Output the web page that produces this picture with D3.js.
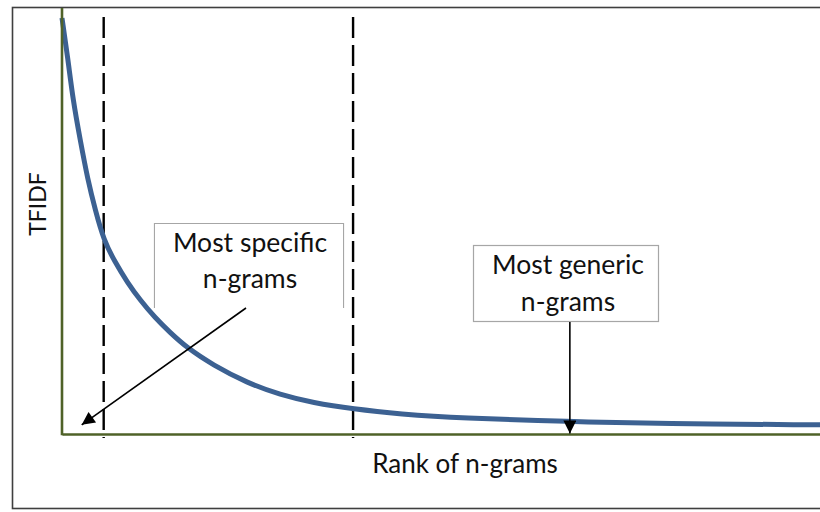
<!DOCTYPE html>
<html>
<head>
<meta charset="utf-8">
<script src="https://cdn.jsdelivr.net/npm/d3@7"></script>
<style>
  html, body { margin: 0; padding: 0; background: #fff; }
  svg { display: block; }
  text { font-family: Lato, "Noto Sans", sans-serif; fill: #111; }
</style>
</head>
<body>
<svg id="chart" width="820" height="512"></svg>
<script>
// ---- data ----
const rank  = [0, 0.8, 1.45, 2.4, 3.4, 4.4, 5.5, 7.0, 8.6, 10.3, 12.3, 14.2, 16.5, 19.9, 24.4, 28.8, 33.1, 38.4, 44.6, 52.5, 67.0, 78.9, 100];
const tfidf = [100, 89.9, 80.3, 70.7, 61.1, 53.8, 46.6, 41.3, 36.5, 32.2, 27.9, 24.5, 20.7, 16.6, 12.3, 9.4, 7.5, 6.0, 4.8, 3.8, 3.0, 2.5, 2.2];
const thresholds = [5.5, 38.4];            // dashed separator ranks
const xLabel = "Rank of n-grams";
const yLabel = "TFIDF";
const specificLines = ["Most specific", "n-grams"];
const genericLines = ["Most generic", "n-grams"];
const specificTarget = [2.6, 2.2];         // arrow tip (rank, tfidf)
const genericTarget = [67, 0.1];

const svg = d3.select("#chart");
const x = d3.scaleLinear().domain([0, 100]).range([62, 820]);
const y = d3.scaleLinear().domain([0, 100]).range([434, 18]);

// outer frame
svg.append("rect").attr("x", 12.5).attr("y", 7.5).attr("width", 830).attr("height", 501)
  .attr("fill", "none").attr("stroke", "#3f3f3f").attr("stroke-width", 1.6);

const defs = svg.append("defs");
defs.append("marker").attr("id", "arrow").attr("viewBox", "0 0 10 10")
  .attr("refX", 10).attr("refY", 5).attr("markerWidth", 16).attr("markerHeight", 13)
  .attr("markerUnits", "userSpaceOnUse").attr("orient", "auto")
  .append("path").attr("d", "M0,0 L10,5 L0,10 Z").attr("fill", "#000");

// dashed separators
svg.selectAll(".sep").data(thresholds).join("line")
  .attr("x1", d => x(d)).attr("x2", d => x(d))
  .attr("y1", 17).attr("y2", 438)
  .attr("stroke", "#000").attr("stroke-width", 2.4)
  .attr("stroke-dasharray", "21,7");

// curve
const line = d3.line().x((d, i) => x(rank[i])).y((d, i) => y(tfidf[i])).curve(d3.curveBasis);
svg.append("path").datum(tfidf).attr("d", line)
  .attr("fill", "none").attr("stroke", "#3c6192").attr("stroke-width", 5)
  .attr("stroke-linecap", "butt");

// axes (no ticks)
const gx = svg.append("g").attr("transform", `translate(0,${y(0)})`)
  .call(d3.axisBottom(x).tickValues([]).tickSizeOuter(0));
const gy = svg.append("g").attr("transform", `translate(${x(0)},0)`)
  .call(d3.axisLeft(y).tickValues([]).tickSizeOuter(0));
[gx, gy].forEach(g => g.select(".domain").attr("stroke", "#4f6228").attr("stroke-width", 2.6));
gy.select(".domain").attr("d", `M0,8V${y(0) + 1.3}`);

// axis labels
svg.append("text").attr("x", 465).attr("y", 473).attr("text-anchor", "middle")
  .attr("font-size", 26).text(xLabel);
svg.append("text").attr("transform", "translate(46,204) rotate(-90)").attr("text-anchor", "middle")
  .attr("font-size", 23).text(yLabel);

// "Most specific" box (open at bottom)
svg.append("path").attr("d", "M154.5,308 V223.5 H343.5 V308")
  .attr("fill", "#fff").attr("stroke", "#a6a6a6").attr("stroke-width", 1.2);
svg.append("rect").attr("x", 155).attr("y", 224).attr("width", 188).attr("height", 84).attr("fill", "#fff");
svg.selectAll(".specTxt").data(specificLines).join("text")
  .attr("x", 250).attr("y", (d, i) => 252 + i * 36).attr("text-anchor", "middle")
  .attr("font-size", 26.5).text(d => d);
svg.append("line").attr("x1", 246).attr("y1", 308)
  .attr("x2", x(specificTarget[0])).attr("y2", y(specificTarget[1]))
  .attr("stroke", "#000").attr("stroke-width", 1.6).attr("marker-end", "url(#arrow)");

// "Most generic" box
svg.append("rect").attr("x", 473.5).attr("y", 245.5).attr("width", 185).attr("height", 76)
  .attr("fill", "#fff").attr("stroke", "#a6a6a6").attr("stroke-width", 1.2);
svg.selectAll(".genTxt").data(genericLines).join("text")
  .attr("x", 568).attr("y", (d, i) => 274 + i * 37).attr("text-anchor", "middle")
  .attr("font-size", 26.5).text(d => d);
svg.append("line").attr("x1", x(genericTarget[0])).attr("y1", 322)
  .attr("x2", x(genericTarget[0])).attr("y2", y(genericTarget[1]))
  .attr("stroke", "#000").attr("stroke-width", 1.6).attr("marker-end", "url(#arrow)");
</script>
</body>
</html>
